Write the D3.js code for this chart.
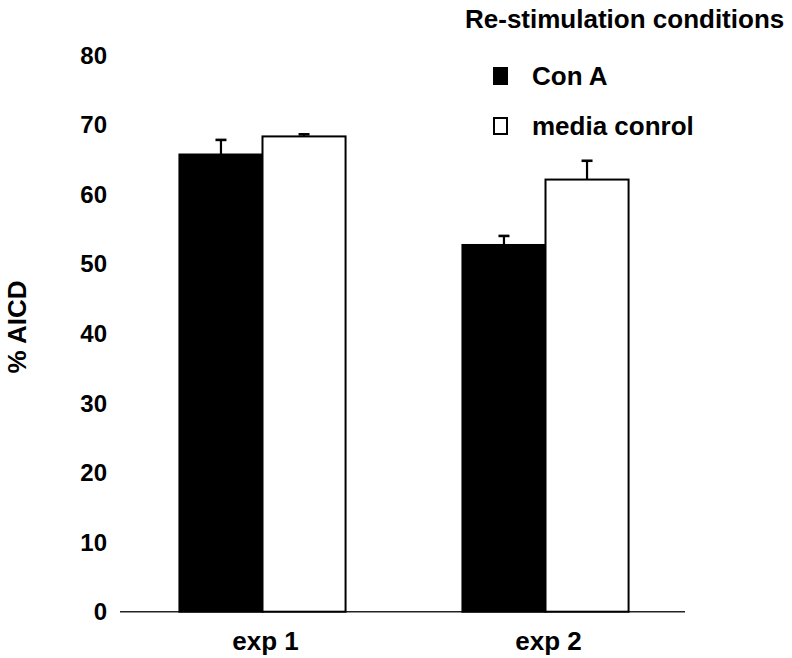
<!DOCTYPE html>
<html>
<head>
<meta charset="utf-8">
<script src="https://cdn.jsdelivr.net/npm/d3@7"></script>
<style>
  html, body { margin: 0; padding: 0; background: #fff; }
  svg { display: block; }
  text { font-family: "Liberation Sans", Arial, sans-serif; font-weight: bold; fill: #000; }
</style>
</head>
<body>
<svg id="chart" width="792" height="658"></svg>
<script>
// Experiments on the x axis
const experiments = ["exp 1", "exp 2"];
// Re-stimulation conditions (series)
const conditions = ["Con A", "media conrol"];
// % AICD means per condition, in experiment order
const conAValues = [65.7, 52.7];
const mediaValues = [68.3, 62.1];
// Error bar (upper) sizes
const conAErrors = [2.1, 1.3];
const mediaErrors = [0.3, 2.7];
// Y axis ticks
const yTicks = [0, 10, 20, 30, 40, 50, 60, 70, 80];

const svg = d3.select("#chart");

const y = d3.scaleLinear().domain([0, 80]).range([611.7, 55]);

const x0 = d3.scaleBand()
  .domain(experiments)
  .range([120, 688])
  .paddingInner(0.413)
  .paddingOuter(0.21);

const x1 = d3.scaleBand()
  .domain(conditions)
  .range([0, x0.bandwidth()])
  .padding(0);

const fills = { "Con A": "#000", "media conrol": "#fff" };

const rows = [];
experiments.forEach((e, i) => {
  rows.push({ exp: e, cond: conditions[0], v: conAValues[i], err: conAErrors[i] });
  rows.push({ exp: e, cond: conditions[1], v: mediaValues[i], err: mediaErrors[i] });
});

// Baseline
svg.append("line")
  .attr("x1", x0.range()[0]).attr("x2", x0.range()[1] - 3)
  .attr("y1", y(0)).attr("y2", y(0))
  .attr("stroke", "#222").attr("stroke-width", 1.5);

// Bars
svg.append("g").selectAll("rect")
  .data(rows)
  .join("rect")
  .attr("x", d => x0(d.exp) + x1(d.cond))
  .attr("y", d => y(d.v))
  .attr("width", x1.bandwidth())
  .attr("height", d => y(0) - y(d.v))
  .attr("fill", d => fills[d.cond])
  .attr("stroke", "#000")
  .attr("stroke-width", 2);

// Error bars (upper whisker with cap)
const eb = svg.append("g").attr("stroke", "#000").attr("stroke-width", 2.2);
rows.forEach(d => {
  const cx = x0(d.exp) + x1(d.cond) + x1.bandwidth() / 2;
  eb.append("line").attr("x1", cx).attr("x2", cx)
    .attr("y1", y(d.v)).attr("y2", y(d.v + d.err));
  eb.append("line").attr("x1", cx - 5.5).attr("x2", cx + 5.5)
    .attr("y1", y(d.v + d.err)).attr("y2", y(d.v + d.err))
    .attr("stroke-width", 2.6);
});

// Y tick labels
svg.append("g").selectAll("text")
  .data(yTicks)
  .join("text")
  .attr("x", 107)
  .attr("y", d => y(d))
  .attr("dy", "0.36em")
  .attr("text-anchor", "end")
  .style("font-size", "24px")
  .text(d => d);

// X category labels
svg.append("g").selectAll("text")
  .data(experiments)
  .join("text")
  .attr("x", d => x0(d) + x0.bandwidth() / 2 + 3)
  .attr("y", 650)
  .attr("text-anchor", "middle")
  .style("font-size", "26px")
  .text(d => d);

// Y axis title
svg.append("text")
  .attr("transform", "translate(26,327) rotate(-90)")
  .attr("text-anchor", "middle")
  .style("font-size", "26px")
  .text("% AICD");

// Legend
const legend = svg.append("g");
legend.append("text")
  .attr("x", 465).attr("y", 28)
  .style("font-size", "26px")
  .text("Re-stimulation conditions");

const legY = [76, 126];
conditions.forEach((c, i) => {
  legend.append("rect")
    .attr("x", 494).attr("y", legY[i] - 8)
    .attr("width", 13).attr("height", 16)
    .attr("fill", fills[c])
    .attr("stroke", "#000").attr("stroke-width", 2);
  legend.append("text")
    .attr("x", 532).attr("y", legY[i])
    .attr("dy", "0.36em")
    .style("font-size", "26px")
    .text(c);
});
</script>
</body>
</html>
